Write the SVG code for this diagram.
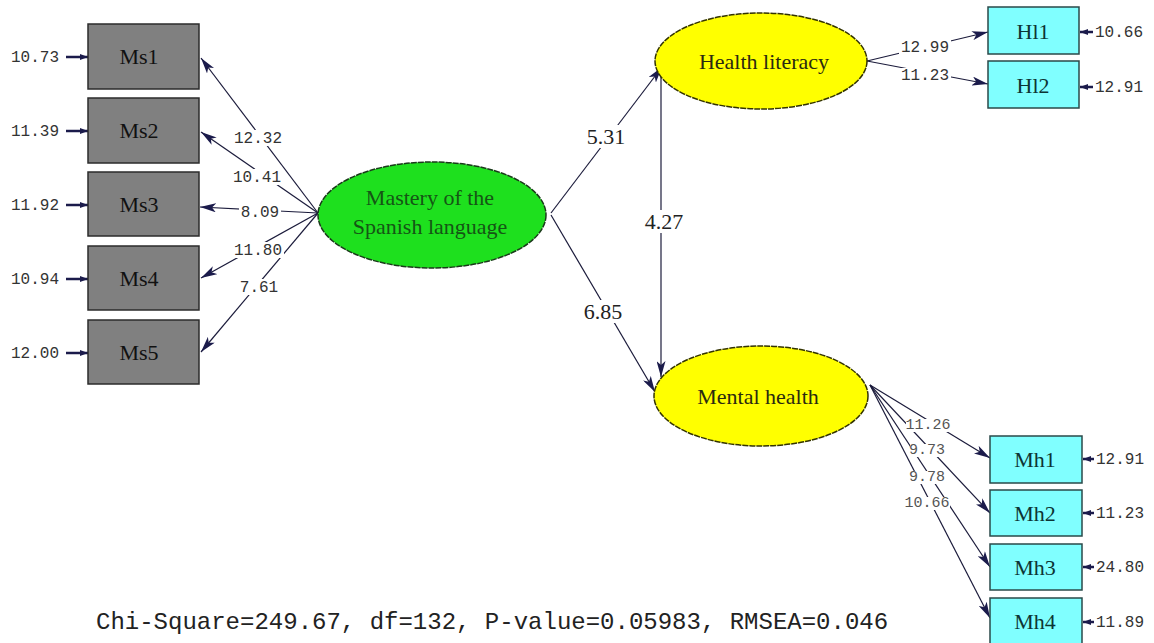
<svg xmlns="http://www.w3.org/2000/svg" width="1154" height="643" viewBox="0 0 1154 643">
<style>
.bg{fill:#ffffff}
.ms{fill:#808080;stroke:#2b2b2b;stroke-width:1.5}
.cy{fill:#80ffff;stroke:#2a4a4a;stroke-width:1.5}
.yel{fill:#ffff00;stroke:#333300;stroke-width:1.5;stroke-dasharray:6 1}
.grn{fill:#1ee01e;stroke:#1a3a1a;stroke-width:1.5;stroke-dasharray:6 1}
.nl{font-family:"Liberation Serif","Times New Roman",serif;font-size:22px;text-anchor:middle}
.num{font-family:"Liberation Mono","Courier New",monospace;font-size:16px;fill:#333;text-anchor:middle}
.numl{font-family:"Liberation Mono","Courier New",monospace;font-size:16px;fill:#333}
.mhl{font-size:15px;fill:#555}
.wb{fill:#ffffff}
.ln{stroke:#1b1b3b;stroke-width:1.2;fill:none}
.err{stroke:#1b1b4b;stroke-width:2.5;fill:none}
.sl{font-family:"Liberation Serif","Times New Roman",serif;font-size:22px;fill:#222;text-anchor:middle}
</style>
<defs>
<marker id="ah" viewBox="0 0 16 9" refX="16" refY="4.5" markerWidth="16" markerHeight="9" orient="auto" markerUnits="userSpaceOnUse">
<path d="M0,0 L16,4.5 L0,9 L4,4.5 z" fill="#1b1b4b"/>
</marker>
<marker id="ae" viewBox="0 0 8 6" refX="8" refY="3" markerWidth="8" markerHeight="6" orient="auto" markerUnits="userSpaceOnUse">
<path d="M0,0 L8,3 L0,6 z" fill="#1b1b4b"/>
</marker>
</defs>
<rect class="bg" x="0" y="0" width="1154" height="643"/>

<g id="connectors">
<line class="ln" x1="318" y1="213" x2="201" y2="58" marker-end="url(#ah)"/>
<line class="ln" x1="318" y1="213" x2="201" y2="132" marker-end="url(#ah)"/>
<line class="ln" x1="318" y1="213" x2="200" y2="207" marker-end="url(#ah)"/>
<line class="ln" x1="318" y1="213" x2="201" y2="278" marker-end="url(#ah)"/>
<line class="ln" x1="318" y1="213" x2="201" y2="352" marker-end="url(#ah)"/>
<line class="ln" x1="551" y1="213" x2="662" y2="67" marker-end="url(#ah)"/>
<line class="ln" x1="551" y1="215" x2="655" y2="392" marker-end="url(#ah)"/>
<line class="ln" x1="661" y1="77" x2="661" y2="377" marker-end="url(#ah)"/>
<line class="ln" x1="867" y1="61" x2="988" y2="32" marker-end="url(#ah)"/>
<line class="ln" x1="867" y1="61" x2="988" y2="84" marker-end="url(#ah)"/>
<line class="ln" x1="870" y1="385" x2="990" y2="458" marker-end="url(#ah)"/>
<line class="ln" x1="870" y1="385" x2="990" y2="513" marker-end="url(#ah)"/>
<line class="ln" x1="870" y1="385" x2="990" y2="567" marker-end="url(#ah)"/>
<line class="ln" x1="870" y1="385" x2="990" y2="618" marker-end="url(#ah)"/>
<line class="err" x1="66" y1="57" x2="88" y2="57" marker-end="url(#ae)"/>
<line class="err" x1="66" y1="131" x2="88" y2="131" marker-end="url(#ae)"/>
<line class="err" x1="66" y1="205" x2="88" y2="205" marker-end="url(#ae)"/>
<line class="err" x1="66" y1="279" x2="88" y2="279" marker-end="url(#ae)"/>
<line class="err" x1="66" y1="353" x2="88" y2="353" marker-end="url(#ae)"/>
<line class="err" x1="1093" y1="32" x2="1080" y2="32" marker-end="url(#ae)"/>
<line class="err" x1="1093" y1="87" x2="1080" y2="87" marker-end="url(#ae)"/>
<line class="err" x1="1094" y1="459" x2="1083" y2="459" marker-end="url(#ae)"/>
<line class="err" x1="1094" y1="513" x2="1083" y2="513" marker-end="url(#ae)"/>
<line class="err" x1="1094" y1="567" x2="1083" y2="567" marker-end="url(#ae)"/>
<line class="err" x1="1094" y1="622" x2="1083" y2="622" marker-end="url(#ae)"/>
<rect class="wb" x="232" y="130" width="52" height="16"/>
<rect class="wb" x="231" y="169" width="52" height="16"/>
<rect class="wb" x="239" y="204" width="42" height="16"/>
<rect class="wb" x="232" y="242" width="52" height="16"/>
<rect class="wb" x="238" y="279" width="42" height="16"/>
<rect class="wb" x="585" y="125" width="42" height="23"/>
<rect class="wb" x="643" y="210" width="42" height="23"/>
<rect class="wb" x="582" y="300" width="42" height="23"/>
<rect class="wb" x="899" y="40" width="52" height="16"/>
<rect class="wb" x="899" y="68" width="52" height="16"/>
<rect class="wb" x="906" y="419" width="44" height="13"/>
<rect class="wb" x="910" y="444" width="34" height="13"/>
<rect class="wb" x="910" y="471" width="34" height="13"/>
<rect class="wb" x="906" y="497" width="44" height="13"/>
<text class="num" x="258" y="143">12.32</text>
<text class="num" x="257" y="182">10.41</text>
<text class="num" x="260" y="217">8.09</text>
<text class="num" x="258" y="255">11.80</text>
<text class="num" x="259" y="292">7.61</text>
<text class="sl" x="606" y="144">5.31</text>
<text class="sl" x="664" y="229">4.27</text>
<text class="sl" x="603" y="319">6.85</text>
<text class="num" x="925" y="52">12.99</text>
<text class="num" x="925" y="80">11.23</text>
<text class="num mhl" x="928" y="429">11.26</text>
<text class="num mhl" x="927" y="454">9.73</text>
<text class="num mhl" x="927" y="481">9.78</text>
<text class="num mhl" x="927" y="507">10.66</text>
<text class="numl" x="11" y="62">10.73</text>
<text class="numl" x="11" y="136">11.39</text>
<text class="numl" x="11" y="210">11.92</text>
<text class="numl" x="11" y="284">10.94</text>
<text class="numl" x="11" y="358">12.00</text>
<text class="numl" x="1095" y="37">10.66</text>
<text class="numl" x="1095" y="92">12.91</text>
<text class="numl" x="1096" y="464">12.91</text>
<text class="numl" x="1096" y="518">11.23</text>
<text class="numl" x="1096" y="572">24.80</text>
<text class="numl" x="1096" y="627">11.89</text>
</g>

<g id="Ms1"><rect class="ms" x="88" y="24" width="111" height="65"/><text class="nl" x="139" y="64" fill="#111">Ms1</text></g>
<g id="Ms2"><rect class="ms" x="88" y="98" width="111" height="65"/><text class="nl" x="139" y="138" fill="#111">Ms2</text></g>
<g id="Ms3"><rect class="ms" x="88" y="172" width="111" height="64"/><text class="nl" x="139" y="212" fill="#111">Ms3</text></g>
<g id="Ms4"><rect class="ms" x="88" y="246" width="111" height="64"/><text class="nl" x="139" y="286" fill="#111">Ms4</text></g>
<g id="Ms5"><rect class="ms" x="88" y="320" width="111" height="64"/><text class="nl" x="139" y="360" fill="#111">Ms5</text></g>

<g id="Mastery"><ellipse class="grn" cx="432" cy="215" rx="114" ry="53"/>
<text class="nl" x="430" y="205" fill="#155515">Mastery of the</text>
<text class="nl" x="430" y="234" fill="#155515">Spanish language</text></g>

<g id="HealthLiteracy"><ellipse class="yel" cx="761" cy="61" rx="106" ry="48"/><text class="nl" x="764" y="69" fill="#2a2a10">Health literacy</text></g>
<g id="MentalHealth"><ellipse class="yel" cx="761" cy="396" rx="107" ry="50"/><text class="nl" x="758" y="404" fill="#2a2a10">Mental health</text></g>

<g id="Hl1"><rect class="cy" x="988" y="7" width="91" height="47"/><text class="nl" x="1033" y="39" fill="#0d3535">Hl1</text></g>
<g id="Hl2"><rect class="cy" x="988" y="61" width="91" height="47"/><text class="nl" x="1033" y="93" fill="#0d3535">Hl2</text></g>
<g id="Mh1"><rect class="cy" x="990" y="436" width="92" height="47"/><text class="nl" x="1035" y="467" fill="#0d3535">Mh1</text></g>
<g id="Mh2"><rect class="cy" x="990" y="490" width="92" height="46"/><text class="nl" x="1035" y="521" fill="#0d3535">Mh2</text></g>
<g id="Mh3"><rect class="cy" x="990" y="544" width="92" height="46"/><text class="nl" x="1035" y="575" fill="#0d3535">Mh3</text></g>
<g id="Mh4"><rect class="cy" x="990" y="598" width="92" height="50"/><text class="nl" x="1035" y="629" fill="#0d3535">Mh4</text></g>

<text x="96" y="629" font-family="Liberation Mono, Courier New, monospace" font-size="24" fill="#222">Chi-Square=249.67, df=132, P-value=0.05983, RMSEA=0.046</text>
</svg>
